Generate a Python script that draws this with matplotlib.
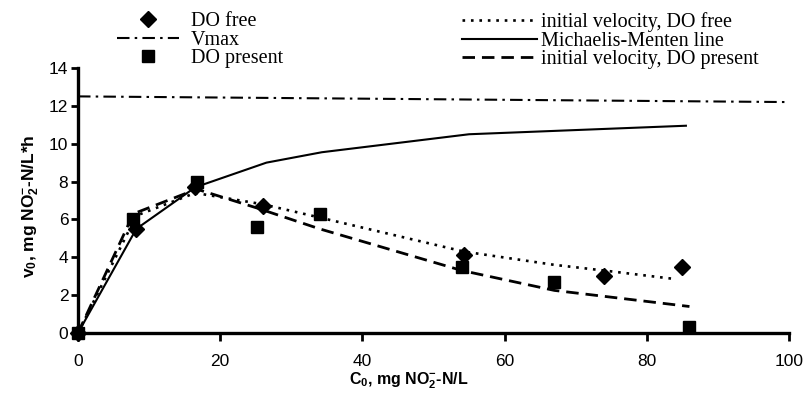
import matplotlib
matplotlib.use("Agg")
import matplotlib.pyplot as plt

# ---- data ----
free_x = [0, 8.2, 16.5, 26, 54.3, 74, 85]
free_y = [0, 5.5, 7.7, 6.7, 4.1, 3.0, 3.5]

pres_x = [0, 7.8, 16.7, 25.2, 34, 54, 67, 86]
pres_y = [0, 6.0, 8.0, 5.6, 6.3, 3.5, 2.7, 0.33]

vmax_x = [0, 100]
vmax_y = [12.5, 12.2]

mm_x = [0, 8.2, 16.5, 26.5, 34.3, 55, 85.5]
mm_y = [0, 5.5, 7.7, 9.0, 9.55, 10.5, 10.95]

ivf_x = [0, 8.2, 16.5, 26, 34, 54.3, 67, 74, 84]
ivf_y = [0, 6.2, 7.4, 6.8, 6.1, 4.3, 3.6, 3.3, 2.85]

ivp_x = [0, 7.8, 16.7, 25.2, 34, 54, 67, 86]
ivp_y = [0, 6.3, 7.6, 6.6, 5.5, 3.3, 2.25, 1.4]

xticks = [0, 20, 40, 60, 80, 100]
yticks = [0, 2, 4, 6, 8, 10, 12, 14]

plt.rcParams["mathtext.fontset"] = "custom"
plt.rcParams["mathtext.rm"] = "Liberation Sans:bold"
plt.rcParams["mathtext.it"] = "Liberation Sans:bold"
plt.rcParams["mathtext.bf"] = "Liberation Sans:bold"

W, H = 808, 394
fig = plt.figure(figsize=(W / 100, H / 100), dpi=100)
ax = fig.add_axes([78 / W, 1 - 333 / H, 711 / W, 265 / H])

sans = "Liberation Sans"
serif = "Liberation Serif"

l_vmax, = ax.plot(vmax_x, vmax_y, color="black", lw=1.5,
                  linestyle=(0, (6, 2.5, 1.2, 2.5)), label="Vmax")
l_mm, = ax.plot(mm_x, mm_y, color="black", lw=1.5, linestyle="-",
                label="Michaelis-Menten line")
l_ivf, = ax.plot(ivf_x, ivf_y, color="black", lw=1.9,
                 linestyle=(0, (1, 2.2)), label="initial velocity, DO free")
l_ivp, = ax.plot(ivp_x, ivp_y, color="black", lw=2.0,
                 linestyle=(0, (4.5, 2.5)), label="initial velocity, DO present")
l_free, = ax.plot(free_x, free_y, linestyle="none", marker="D", ms=7.8,
                  color="black", clip_on=False, zorder=5, label="DO free")
l_pres, = ax.plot(pres_x, pres_y, linestyle="none", marker="s", ms=9.2,
                  color="black", clip_on=False, zorder=5, label="DO present")

ax.set_xlim(0, 100)
ax.set_ylim(0, 14)
ax.set_xticks(xticks)
ax.set_yticks(yticks)
for s in ("top", "right"):
    ax.spines[s].set_visible(False)
for s in ("left", "bottom"):
    ax.spines[s].set_linewidth(2.4)
ax.tick_params(axis="x", direction="out", length=6, width=2, pad=9,
               labelsize=12.5)
ax.tick_params(axis="y", direction="out", length=5, width=2, pad=2,
               labelsize=12.5)
for lab in ax.get_xticklabels() + ax.get_yticklabels():
    lab.set_fontfamily(sans)

ax.set_xlabel(r"C$_0$, mg NO$_2^{-}$-N/L", fontsize=11.5,
              fontweight="bold", fontfamily=sans)
ax.set_ylabel(r"v$_0$, mg NO$_2^{-}$-N/L*h", fontsize=12.5,
              fontweight="bold", fontfamily=sans)
ax.xaxis.set_label_coords(0.465, -0.14)
ax.yaxis.set_label_coords(-0.052, 0.48)

legfont = {"family": serif, "size": 14.5}
leg1 = fig.legend(handles=[l_free, l_vmax, l_pres],
                  labels=["DO free", "Vmax", "DO present"],
                  loc="upper left", bbox_to_anchor=(117 / W, 1 - 12 / H),
                  frameon=False, prop=legfont, handlelength=3.1,
                  handletextpad=0.55, labelspacing=-0.02, borderpad=0,
                  borderaxespad=0)
leg2 = fig.legend(handles=[l_ivf, l_mm, l_ivp],
                  labels=["initial velocity, DO free", "Michaelis-Menten line",
                          "initial velocity, DO present"],
                  loc="upper left", bbox_to_anchor=(462 / W, 1 - 12 / H),
                  frameon=False, prop=legfont, handlelength=3.7,
                  handletextpad=0.2, labelspacing=-0.02, borderpad=0,
                  borderaxespad=0)

fig.savefig("out.png", dpi=100)
